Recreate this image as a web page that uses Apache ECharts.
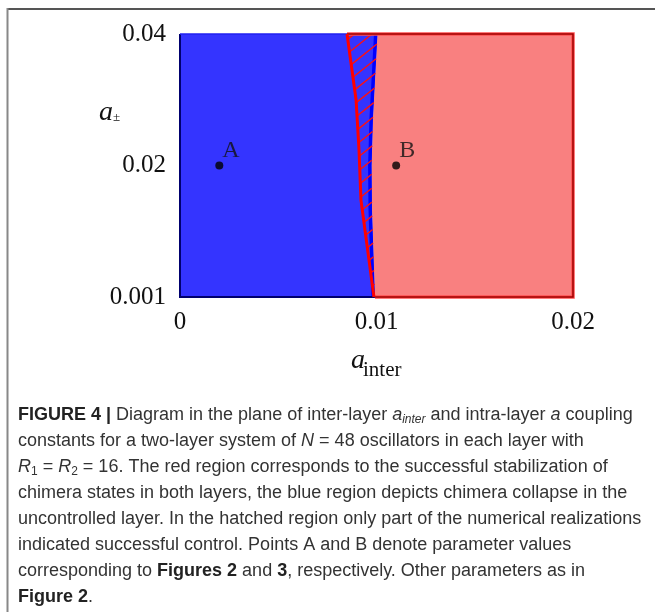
<!DOCTYPE html>
<html><head><meta charset="utf-8">
<script src="https://cdn.jsdelivr.net/npm/echarts@6/dist/echarts.min.js"></script>
<style>html,body{margin:0;padding:0;background:#fff}#c{width:655px;height:612px}</style>
</head><body><div id="c"></div>
<script>
// ---- data ----
const xTickLabels = ['0', '0.01', '0.02'];
const xTickValues = [0, 0.01, 0.02];
const yTickLabels = ['0.001', '0.02', '0.04'];
const yTickValues = [0.001, 0.02, 0.04];
// red curve: boundary between blue region and hatched region (bottom -> top)
const redCurveX = [0.00987, 0.00921, 0.00911, 0.00896, 0.00850];
const redCurveY = [0.001, 0.015, 0.0224, 0.030, 0.04];
// edge between hatched region and red region (bottom -> top)
const edgeX = [0.00992, 0.00977, 0.00975, 0.00982, 0.01005];
const edgeY = [0.001, 0.0136, 0.02, 0.0272, 0.04];
// marked points
const pointNames = ['A', 'B'];
const pointX = [0.002, 0.011];
const pointY = [0.02, 0.02];

// y axis is drawn with equally spaced ticks 0.001, 0.02, 0.04
function yIdx(v) {
  const n = yTickValues.length;
  for (let i = 0; i < n - 1; i++) {
    const a = yTickValues[i], b = yTickValues[i + 1];
    if (v <= b || i === n - 2) return i + (v - a) / (b - a);
  }
}

const chart = echarts.init(document.getElementById('c'), null, {renderer: 'canvas'});
const serif = '"Liberation Serif", "Times New Roman", serif';
const sans = '"Liberation Sans", Arial, sans-serif';

function renderRegions(params, api) {
  const P = (x, y) => api.coord([x, yIdx(y)]);
  const xmin = xTickValues[0], xmax = xTickValues[xTickValues.length - 1];
  const ymin = yTickValues[0], ymax = yTickValues[yTickValues.length - 1];
  const edge = edgeX.map((x, i) => P(x, edgeY[i]));
  const red = redCurveX.map((x, i) => P(x, redCurveY[i]));
  const bl = P(xmin, ymin), tl = P(xmin, ymax), tr = P(xmax, ymax), br = P(xmax, ymin);
  const children = [];
  // blue region
  children.push({type: 'polygon', shape: {points: [bl, tl].concat(edge.slice().reverse())},
    style: {fill: '#3434ff', stroke: null}});
  // red region
  children.push({type: 'polygon', shape: {points: edge.concat([tr, br])},
    style: {fill: '#f98080', stroke: null}});
  // pure blue strip along the edge
  const strip = edge.concat(edge.slice().reverse().map(p => [p[0] - 3.5, p[1]]));
  children.push({type: 'polygon', shape: {points: strip}, style: {fill: '#0000ff', stroke: null}});
  // hatch lines in region between red curve and edge
  const poly = red.concat(edge.slice().reverse());
  const m = 0.8, step = 14;
  const vals = poly.map(p => p[1] + m * p[0]);
  const cmin = Math.min(...vals), cmax = Math.max(...vals);
  for (let c = cmin + 6; c < cmax; c += step) {
    const pts = [];
    for (let i = 0; i < poly.length; i++) {
      const p1 = poly[i], p2 = poly[(i + 1) % poly.length];
      const f1 = p1[1] + m * p1[0] - c, f2 = p2[1] + m * p2[0] - c;
      if ((f1 <= 0 && f2 > 0) || (f1 > 0 && f2 <= 0)) {
        const t = f1 / (f1 - f2);
        pts.push([p1[0] + t * (p2[0] - p1[0]), p1[1] + t * (p2[1] - p1[1])]);
      }
    }
    pts.sort((a, b) => a[0] - b[0]);
    for (let k = 0; k + 1 < pts.length; k += 2) {
      children.push({type: 'line', shape: {x1: pts[k][0], y1: pts[k][1], x2: pts[k + 1][0], y2: pts[k + 1][1]},
        style: {stroke: '#ff1010', lineWidth: 1.4}});
    }
  }
  // borders
  children.push({type: 'polyline', shape: {points: [tl, bl, edge[0]]},
    style: {stroke: '#00006e', lineWidth: 2, fill: null}});
  children.push({type: 'line', shape: {x1: tl[0], y1: tl[1], x2: red[red.length - 1][0], y2: tl[1]},
    style: {stroke: '#2020f0', lineWidth: 1.5}});
  children.push({type: 'polyline', shape: {points: [edge[0], br, tr, red[red.length - 1]]},
    style: {stroke: '#ff5050', lineWidth: 3.5, fill: null}});
  children.push({type: 'polyline', shape: {points: [edge[0], br, tr, red[red.length - 1]]},
    style: {stroke: '#a00000', lineWidth: 1.5, fill: null}});
  // red curve
  children.push({type: 'polyline', shape: {points: red},
    style: {stroke: '#ff0000', lineWidth: 3, fill: null, lineJoin: 'round'}});
  return {type: 'group', children};
}

const capColor = '#333';
const FS = 18, SFS = 12, LH = 22;
const capRich = {
  n: {fontFamily: sans, fontSize: FS, fill: capColor, lineHeight: LH},
  b: {fontFamily: sans, fontSize: FS, fontWeight: 'bold', fill: '#222', lineHeight: LH},
  i: {fontFamily: sans, fontSize: FS, fontStyle: 'italic', fill: capColor, lineHeight: LH},
  is: {fontFamily: sans, fontSize: SFS, fontStyle: 'italic', fill: capColor, lineHeight: SFS, verticalAlign: 'bottom'},
  s: {fontFamily: sans, fontSize: SFS, fill: capColor, lineHeight: SFS, verticalAlign: 'bottom'}
};
const capLines = [
  '{b|FIGURE 4 |}{n| Diagram in the plane of inter-layer }{i|a}{is|inter}{n| and intra-layer }{i|a}{n| coupling}',
  '{n|constants for a two-layer system of }{i|N}{n| = 48 oscillators in each layer with}',
  '{i|R}{s|1}{n| = }{i|R}{s|2}{n| = 16. The red region corresponds to the successful stabilization of}',
  '{n|chimera states in both layers, the blue region depicts chimera collapse in the}',
  '{n|uncontrolled layer. In the hatched region only part of the numerical realizations}',
  '{n|indicated successful control. Points A and B denote parameter values}',
  '{n|corresponding to }{b|Figures 2}{n| and }{b|3}{n|, respectively. Other parameters as in}',
  '{b|Figure 2}{n|.}'
];
const graphics = [
  {type: 'line', shape: {x1: 7, y1: 9, x2: 655, y2: 9}, style: {stroke: '#555', lineWidth: 2}},
  {type: 'line', shape: {x1: 7.5, y1: 8, x2: 7.5, y2: 612}, style: {stroke: '#888', lineWidth: 2}},
  {type: 'text', x: 99, y: 113, style: {text: 'a', fontFamily: serif, fontStyle: 'italic', fontSize: 28, fill: '#111', verticalAlign: 'middle'}},
  {type: 'text', x: 113, y: 118, style: {text: '±', fontFamily: serif, fontSize: 13, fill: '#111', verticalAlign: 'middle'}},
  {type: 'text', x: 351, y: 361, style: {text: 'a', fontFamily: serif, fontStyle: 'italic', fontSize: 28, fill: '#111', verticalAlign: 'middle'}},
  {type: 'text', x: 363, y: 370, style: {text: 'inter', fontFamily: serif, fontSize: 21, fill: '#111', verticalAlign: 'middle'}}
];
capLines.forEach((t, i) => {
  graphics.push({type: 'text', x: 18, y: 415 + i * 26, style: {text: t, rich: capRich, verticalAlign: 'middle', fontFamily: sans, fontSize: FS, fill: capColor}});
});

chart.setOption({
  backgroundColor: '#fff',
  animation: false,
  grid: {left: 180, right: 82, top: 34, bottom: 315, containLabel: false},
  xAxis: {
    type: 'value', min: 0, max: 0.02, interval: 0.01,
    axisLine: {show: false}, axisTick: {show: false}, splitLine: {show: false},
    axisLabel: {margin: 13, fontFamily: serif, fontSize: 25, color: '#111',
      formatter: v => { const k = xTickValues.findIndex(t => Math.abs(t - v) < 1e-9); return k >= 0 ? xTickLabels[k] : ''; }}
  },
  yAxis: {
    type: 'value', min: 0, max: 2, interval: 1,
    axisLine: {show: false}, axisTick: {show: false}, splitLine: {show: false},
    axisLabel: {margin: 14, fontFamily: serif, fontSize: 25, color: '#111',
      formatter: v => yTickLabels[Math.round(v)] || ''}
  },
  series: [
    {type: 'custom', renderItem: renderRegions, data: [[0, 0]], silent: true, clip: false, z: 1},
    {type: 'scatter', z: 5, symbolSize: 8, itemStyle: {color: '#000'},
      data: pointNames.map((n, i) => ({name: n, value: [pointX[i], yIdx(pointY[i])]})),
      label: {show: true, formatter: p => p.name, position: 'right', distance: 0, offset: [-1, -15],
        fontFamily: serif, fontSize: 24, color: '#111'}}
  ],
  graphic: graphics
});
</script>
</body></html>
